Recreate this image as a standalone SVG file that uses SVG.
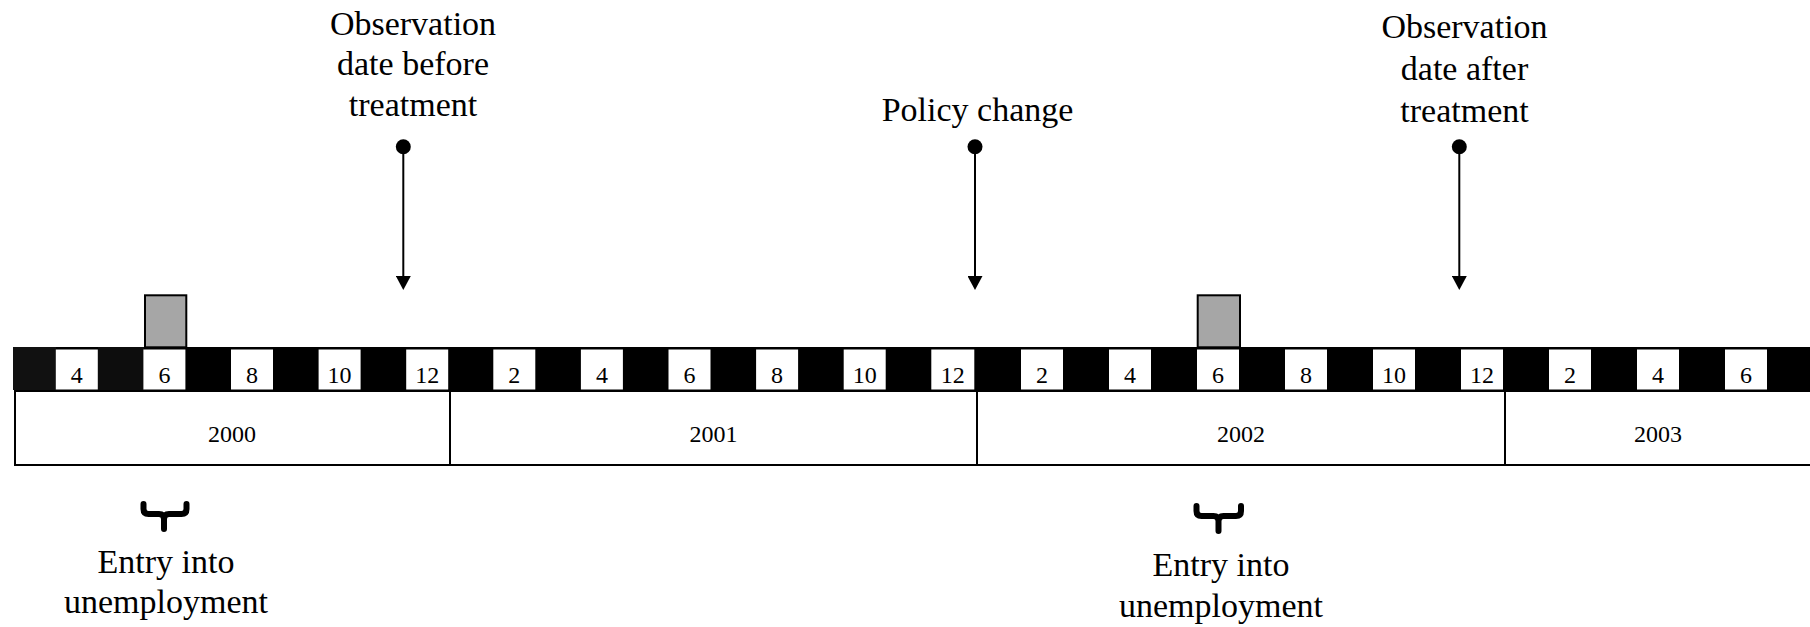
<svg xmlns="http://www.w3.org/2000/svg" width="1810" height="627" viewBox="0 0 1810 627">
<style>
  text { font-family: "Liberation Serif", "Times New Roman", serif; fill: #000; text-anchor: middle; }
  .lbl { font-size: 34px; }
  .num { font-size: 24px; }
  .yr { font-size: 24px; }
  .wbox { fill: #fff; stroke: none; }
  .year { fill: #fff; stroke: #000; stroke-width: 2; }
  .entry { fill: #a6a6a6; stroke: #000; stroke-width: 2; }
  .conn { stroke: #000; stroke-width: 2; fill: none; }
  .dot { fill: #000; }
  .brace { stroke: #000; stroke-width: 6; fill: none; stroke-linecap: round; stroke-linejoin: round; }
</style>
<defs>
  <marker id="arrow" markerUnits="userSpaceOnUse" viewBox="0 0 14 15" markerWidth="14" markerHeight="15" refX="9" refY="7.5" orient="auto">
    <path d="M0,0 L14,7.5 L0,15 Z" fill="#000"/>
  </marker>
</defs>

<g id="timeline">
  <rect x="13" y="347" width="1797" height="43" fill="#000"/>
  <rect x="13" y="347" width="43" height="43" fill="#111"/>
  <rect x="98" y="347" width="46" height="43" fill="#0d0d0d"/>
  <g id="months">
    <rect class="wbox" x="55.8" y="349.5" width="42" height="40"/><text class="num" x="76.8" y="383">4</text>
    <rect class="wbox" x="143.4" y="349.5" width="42" height="40"/><text class="num" x="164.4" y="383">6</text>
    <rect class="wbox" x="231" y="349.5" width="42" height="40"/><text class="num" x="252" y="383">8</text>
    <rect class="wbox" x="318.6" y="349.5" width="42" height="40"/><text class="num" x="339.6" y="383">10</text>
    <rect class="wbox" x="406.2" y="349.5" width="42" height="40"/><text class="num" x="427.2" y="383">12</text>

    <rect class="wbox" x="493.3" y="349.5" width="42" height="40"/><text class="num" x="514.3" y="383">2</text>
    <rect class="wbox" x="580.9" y="349.5" width="42" height="40"/><text class="num" x="601.9" y="383">4</text>
    <rect class="wbox" x="668.5" y="349.5" width="42" height="40"/><text class="num" x="689.5" y="383">6</text>
    <rect class="wbox" x="756.1" y="349.5" width="42" height="40"/><text class="num" x="777.1" y="383">8</text>
    <rect class="wbox" x="843.7" y="349.5" width="42" height="40"/><text class="num" x="864.7" y="383">10</text>
    <rect class="wbox" x="931.3" y="349.5" width="43" height="40"/><text class="num" x="952.8" y="383">12</text>

    <rect class="wbox" x="1021" y="349.5" width="42" height="40"/><text class="num" x="1042" y="383">2</text>
    <rect class="wbox" x="1109" y="349.5" width="42" height="40"/><text class="num" x="1130" y="383">4</text>
    <rect class="wbox" x="1197" y="349.5" width="42" height="40"/><text class="num" x="1218" y="383">6</text>
    <rect class="wbox" x="1285" y="349.5" width="42" height="40"/><text class="num" x="1306" y="383">8</text>
    <rect class="wbox" x="1373" y="349.5" width="42" height="40"/><text class="num" x="1394" y="383">10</text>
    <rect class="wbox" x="1461" y="349.5" width="42" height="40"/><text class="num" x="1482" y="383">12</text>

    <rect class="wbox" x="1549" y="349.5" width="42" height="40"/><text class="num" x="1570" y="383">2</text>
    <rect class="wbox" x="1637" y="349.5" width="42" height="40"/><text class="num" x="1658" y="383">4</text>
    <rect class="wbox" x="1725" y="349.5" width="42" height="40"/><text class="num" x="1746" y="383">6</text>
  </g>
</g>

<g id="year-2000"><rect class="year" x="15" y="391" width="435" height="74"/><text class="yr" x="232" y="442">2000</text></g>
<g id="year-2001"><rect class="year" x="450" y="391" width="527" height="74"/><text class="yr" x="713.5" y="442">2001</text></g>
<g id="year-2002"><rect class="year" x="977" y="391" width="528" height="74"/><text class="yr" x="1241" y="442">2002</text></g>
<g id="year-2003"><rect class="year" x="1505" y="391" width="320" height="74"/><text class="yr" x="1658" y="442">2003</text></g>

<g id="entry-2000">
  <rect class="entry" x="145" y="295.3" width="41.3" height="52"/>
  <path class="brace" d="M143.5,504 V509 Q143.5,514 148.5,514 H159 Q164,514 164,519 V529 M164,519 Q164,514 169,514 H181.5 Q186.5,514 186.5,509 V504"/>
  <text class="lbl" x="166" y="573">Entry into</text>
  <text class="lbl" x="166" y="613">unemployment</text>
</g>

<g id="entry-2002">
  <rect class="entry" x="1197.7" y="295.3" width="42.3" height="52"/>
  <path class="brace" d="M1196.5,506 V511 Q1196.5,516 1201.5,516 H1213.5 Q1218.5,516 1218.5,521 V531 M1218.5,521 Q1218.5,516 1223.5,516 H1236 Q1241,516 1241,511 V506"/>
  <text class="lbl" x="1221" y="576">Entry into</text>
  <text class="lbl" x="1221" y="617">unemployment</text>
</g>

<g id="obs-before">
  <text class="lbl" x="413" y="34.5">Observation</text>
  <text class="lbl" x="413" y="75">date before</text>
  <text class="lbl" x="413" y="116">treatment</text>
</g>
<g id="policy-change">
  <text class="lbl" x="977.5" y="121">Policy change</text>
</g>
<g id="obs-after">
  <text class="lbl" x="1464.5" y="37.5">Observation</text>
  <text class="lbl" x="1464.5" y="79.5">date after</text>
  <text class="lbl" x="1464.5" y="121.5">treatment</text>
</g>

<g id="connectors">
  <circle class="dot" cx="403.3" cy="146.7" r="7.5"/>
  <line class="conn" x1="403.3" y1="147" x2="403.3" y2="285" marker-end="url(#arrow)"/>
  <circle class="dot" cx="975" cy="146.7" r="7.5"/>
  <line class="conn" x1="975" y1="147" x2="975" y2="285" marker-end="url(#arrow)"/>
  <circle class="dot" cx="1459.3" cy="146.7" r="7.5"/>
  <line class="conn" x1="1459.3" y1="147" x2="1459.3" y2="285" marker-end="url(#arrow)"/>
</g>
</svg>
